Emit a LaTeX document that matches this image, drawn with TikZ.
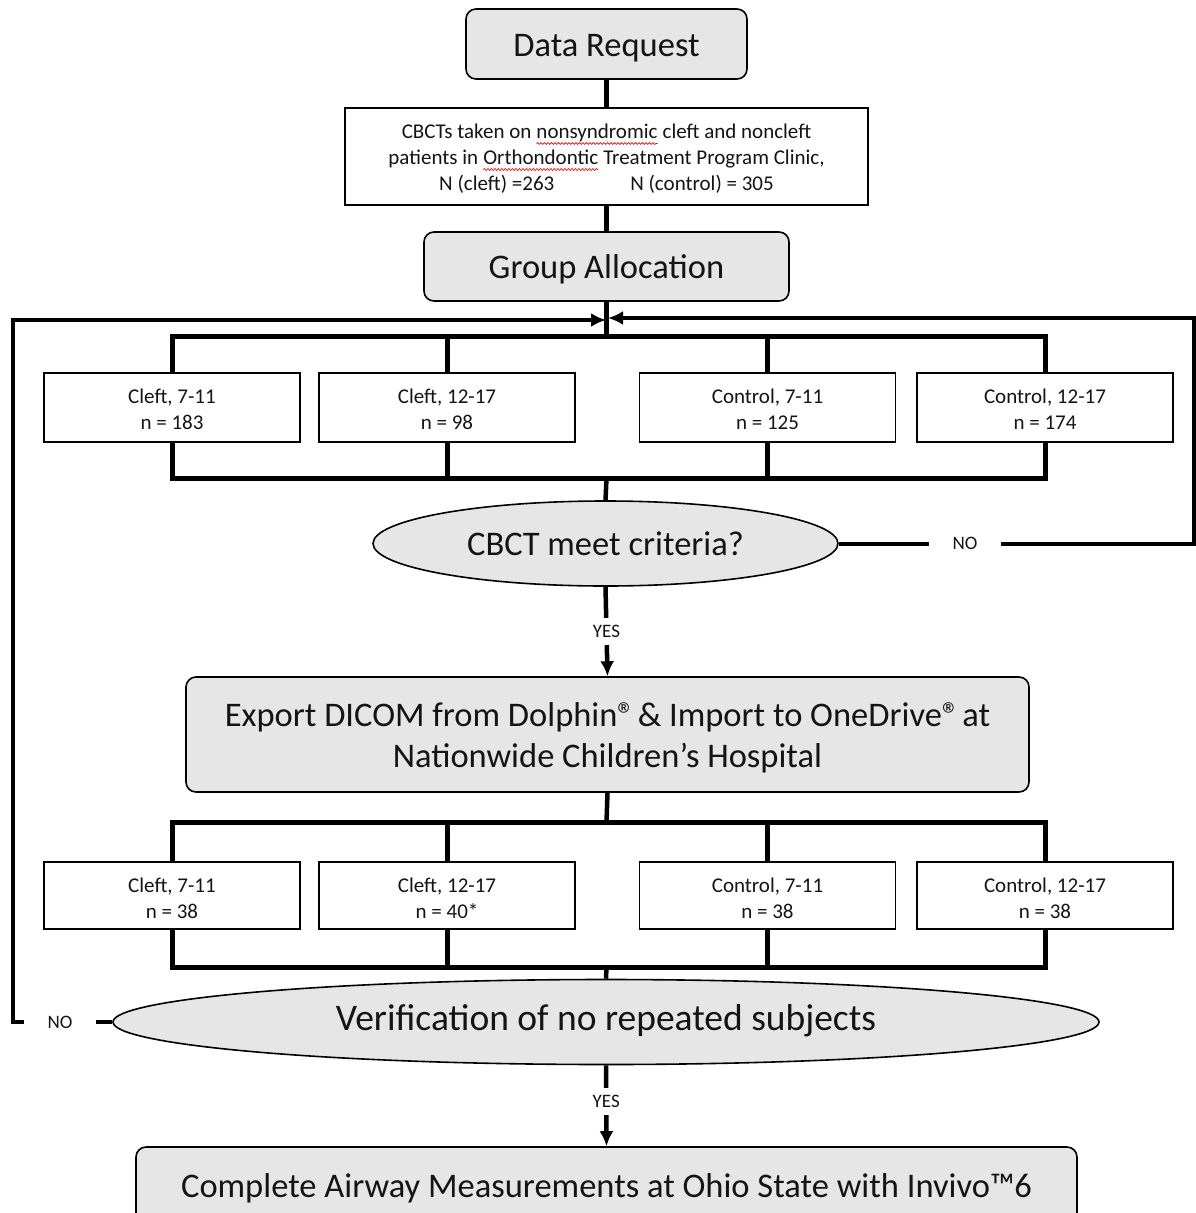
\documentclass[tikz,border=0pt]{standalone}
\usepackage{fontspec}
\setmainfont{Carlito}
\usetikzlibrary{shapes.geometric,arrows.meta,decorations.pathmorphing}
\definecolor{boxgray}{RGB}{230,230,230}
\definecolor{txt}{RGB}{20,20,20}
\newcommand\redwave[1]{\tikz[baseline=(w.base),x=1cm,y=1cm]{\node[inner sep=0pt,outer sep=0pt,minimum width=0pt,minimum height=0pt,text height=,text depth=,draw=none,fill=none,text=txt](w){#1};\draw[red,line width=0.7pt,decorate,decoration={snake,amplitude=0.9pt,segment length=3.5pt}] ([yshift=-5.5pt]w.base west)--([yshift=-5.5pt]w.base east);}}
\tikzset{
  rbox/.style={draw, rounded corners=10pt, fill=boxgray, line width=1.6pt, inner sep=0pt, align=center, text=txt, font=\fontsize{34.5}{41}\selectfont},
  pbox/.style={draw, fill=white, line width=1.6pt, inner sep=0pt, minimum width=256pt, align=center, text=txt, font=\fontsize{21}{26}\selectfont},
  ell/.style={draw, ellipse, fill=boxgray, line width=1.6pt, inner sep=0pt, text=txt},
  one/.style={text height=32pt, text depth=8pt},
  bus/.style={line width=5pt},
  conn/.style={line width=4.5pt},
  loopline/.style={line width=4pt},
  lbl/.style={fill=white, text=txt, font=\fontsize{19}{21}\selectfont, inner ysep=7pt, inner xsep=4pt},
  tip/.style={-{Latex[length=15pt,width=14pt]}}
}
\begin{document}
\begin{tikzpicture}[x=1pt,y=-1pt]
\clip (0,0) rectangle (1196,1213);
\fill[white] (0,0) rectangle (1196,1213);

% nodes
\node[rbox, one, minimum width=281pt, minimum height=70pt] (req) at (606.5,44) {Data Request};
\node[pbox, text height=70pt, text depth=3pt, minimum width=523pt, minimum height=97pt] (cbct) at (606.5,156.5)
  {CBCTs taken on \redwave{nonsyndromic} cleft and noncleft\\
   patients in \redwave{Orthondontic} Treatment Program Clinic,\\
   N (cleft) =263\hspace*{76pt}N (control) = 305};
\node[rbox, one, minimum width=365pt, minimum height=69pt] (ga) at (606.5,266.5) {Group Allocation};

\node[pbox, text height=45pt, text depth=2pt, minimum height=69pt] (a1) at (172,407.5) {Cleft, 7-11\\n = 183};
\node[pbox, text height=45pt, text depth=2pt, minimum height=69pt] (a2) at (447,407.5) {Cleft, 12-17\\n = 98};
\node[pbox, text height=45pt, text depth=2pt, minimum height=69pt] (a3) at (767.5,407.5) {Control, 7-11\\n = 125};
\node[pbox, text height=45pt, text depth=2pt, minimum height=69pt] (a4) at (1045,407.5) {Control, 12-17\\n = 174};

\node[ell, one, minimum width=465pt, minimum height=85pt, font=\fontsize{34.5}{40}\selectfont] (e1) at (605.5,543.5) {CBCT meet criteria?};

\node[rbox, text height=68pt, text depth=3pt, minimum width=843pt, minimum height=115pt] (exp) at (607.5,734.5)
  {Export DICOM from Dolphin®\kern-5pt{} \& Import to OneDrive®\kern-5pt{} at\\Nationwide Children’s Hospital};

\node[pbox, text height=47pt, text depth=2pt, minimum height=67pt] (b1) at (172,895.5) {Cleft, 7-11\\n = 38};
\node[pbox, text height=47pt, text depth=2pt, minimum height=67pt] (b2) at (447,895.5) {Cleft, 12-17\\n = 40*};
\node[pbox, text height=47pt, text depth=2pt, minimum height=67pt] (b3) at (767.5,895.5) {Control, 7-11\\n = 38};
\node[pbox, text height=47pt, text depth=2pt, minimum height=67pt] (b4) at (1045,895.5) {Control, 12-17\\n = 38};

\node[ell, text height=28pt, text depth=12pt, minimum width=986pt, minimum height=85pt, font=\fontsize{37.5}{42}\selectfont] (e2) at (606,1022) {Verification of no repeated subjects};

\node[rbox, one, minimum width=941pt, minimum height=76pt] (fin) at (606.5,1185) {Complete Airway Measurements at Ohio State with Invivo™6};

% coordinates
\coordinate (tb) at (606.5,336);
\coordinate (bb) at (606.5,478);
\coordinate (tb2) at (606.5,822);
\coordinate (bb2) at (606.5,967);
\coordinate (mL) at (606,320);
\coordinate (mR) at (608,318);

% main vertical connectors
\draw[conn] (req.south) -- (cbct.north);
\draw[conn] (cbct.south) -- (ga.north);
\draw[conn] (ga.south) -- (tb);
\draw[conn] (bb) -- (e1.north);
\draw[conn] (exp.south) -- (tb2);
\draw[conn] (bb2) -- (e2.north);

% buses row 1
\draw[bus] (a1.north) |- (tb) -| (a4.north);
\draw[bus] (a2.north) -- (a2.north |- tb);
\draw[bus] (a3.north) -- (a3.north |- tb);
\draw[bus] (a1.south) |- (bb) -| (a4.south);
\draw[bus] (a2.south) -- (a2.south |- bb);
\draw[bus] (a3.south) -- (a3.south |- bb);

% buses row 2
\draw[bus] (b1.north) |- (tb2) -| (b4.north);
\draw[bus] (b2.north) -- (b2.north |- tb2);
\draw[bus] (b3.north) -- (b3.north |- tb2);
\draw[bus] (b1.south) |- (bb2) -| (b4.south);
\draw[bus] (b2.south) -- (b2.south |- bb2);
\draw[bus] (b3.south) -- (b3.south |- bb2);

% YES connectors
\draw[conn, tip] (e1.south) -- node[lbl] {YES} (exp.north);
\draw[conn, tip] (e2.south) -- node[lbl, pos=0.45] {YES} (fin.north);

% NO loops
\draw[loopline, tip] (e1.east) -- (1194,543.5) -- (1194,318) -- (mR);
\node[lbl, inner xsep=24pt] (no1) at (965,543.5) {NO};
\draw[loopline, tip] (e2.west) -- (13,1022) -- (13,320) -- (mL);
\node[lbl, inner xsep=24pt] (no2) at (60,1022) {NO};
\end{tikzpicture}
\end{document}
